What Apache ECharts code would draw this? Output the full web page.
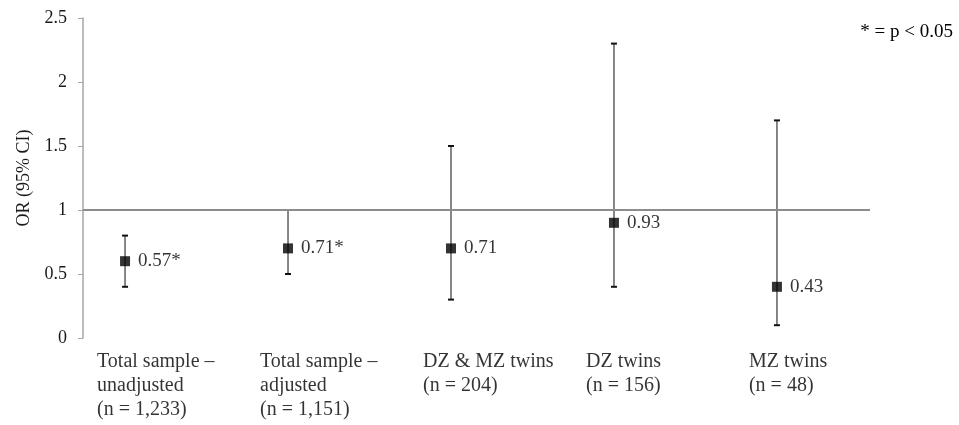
<!DOCTYPE html>
<html>
<head>
<meta charset="utf-8">
<script src="https://cdn.jsdelivr.net/npm/echarts@6/dist/echarts.min.js"></script>
<style>
  html, body { margin: 0; padding: 0; background: #fff; }
  #chart { width: 959px; height: 425px; }
</style>
</head>
<body>
<div id="chart"></div>
<script>
// groups along the x axis
var categories = [
  'Total sample –\nunadjusted\n(n = 1,233)',
  'Total sample –\nadjusted\n(n = 1,151)',
  'DZ & MZ twins\n(n = 204)',
  'DZ twins\n(n = 156)',
  'MZ twins\n(n = 48)'
];
// plotted odds ratio, lower and upper 95% CI
var orValues = [0.6, 0.7, 0.7, 0.9, 0.4];
var ciLow = [0.4, 0.5, 0.3, 0.4, 0.1];
var ciHigh = [0.8, 1.0, 1.5, 2.3, 1.7];
// text shown next to each marker
var pointLabels = ['0.57*', '0.71*', '0.71', '0.93', '0.43'];
var yTicks = [0, 0.5, 1, 1.5, 2, 2.5];

var serif = 'Liberation Serif';

var myChart = echarts.init(document.getElementById('chart'));

var barData = categories.map(function (c, i) { return [i + 1, ciLow[i], ciHigh[i]]; });
var pointData = categories.map(function (c, i) { return [i + 1, orValues[i]]; });
var catData = categories.map(function (c, i) { return [i + 1, yTicks[0]]; });

var options = {
  animation: false,
  textStyle: { fontFamily: serif },
  title: {
    text: '* = p < 0.05',
    right: 1,
    top: 18,
    textStyle: { fontFamily: serif, fontSize: 19, fontWeight: 'normal', color: '#000' }
  },
  grid: { left: 83, right: 89, top: 18, bottom: 87 },
  xAxis: {
    type: 'value',
    min: 0.742,
    max: 5.571,
    show: false
  },
  yAxis: {
    type: 'value',
    min: yTicks[0],
    max: yTicks[yTicks.length - 1],
    interval: 0.5,
    name: 'OR (95% CI)',
    nameLocation: 'middle',
    nameRotate: 90,
    nameGap: 50,
    nameTextStyle: { fontFamily: serif, fontSize: 18, color: '#1a1a1a' },
    axisLine: { show: true, lineStyle: { color: '#a6a6a6', width: 1.5 } },
    axisTick: { show: true, inside: false, length: 5, lineStyle: { color: '#a6a6a6' } },
    splitLine: { show: false },
    axisLabel: { fontFamily: serif, fontSize: 18, color: '#1a1a1a', margin: 16 }
  },
  series: [
    {
      // error bars
      type: 'custom',
      data: barData,
      z: 3,
      renderItem: function (params, api) {
        var x = api.value(0);
        var lo = api.coord([x, api.value(1)]);
        var hi = api.coord([x, api.value(2)]);
        var cap = 3;
        return {
          type: 'group',
          children: [
            { type: 'line', shape: { x1: lo[0], y1: lo[1], x2: hi[0], y2: hi[1] },
              style: { stroke: '#7a7a7a', lineWidth: 1.8 } },
            { type: 'line', shape: { x1: lo[0] - cap, y1: lo[1], x2: lo[0] + cap, y2: lo[1] },
              style: { stroke: '#111', lineWidth: 2 } },
            { type: 'line', shape: { x1: hi[0] - cap, y1: hi[1], x2: hi[0] + cap, y2: hi[1] },
              style: { stroke: '#111', lineWidth: 2 } }
          ]
        };
      }
    },
    {
      // markers + reference line at OR = 1
      type: 'scatter',
      data: pointData,
      symbol: 'rect',
      symbolSize: 10,
      z: 4,
      itemStyle: { color: '#000' },
      label: {
        show: true,
        position: 'right',
        distance: 8,
        fontFamily: serif,
        fontSize: 19,
        color: '#000',
        formatter: function (p) { return pointLabels[p.dataIndex]; }
      },
      markLine: {
        silent: true,
        symbol: 'none',
        label: { show: false },
        lineStyle: { color: '#8c8c8c', width: 2, type: 'solid' },
        data: [{ yAxis: 1 }]
      }
    },
    {
      // category labels under the plot
      type: 'scatter',
      data: catData,
      symbolSize: 0,
      clip: false,
      silent: true,
      label: {
        show: true,
        position: 'bottom',
        distance: 12,
        align: 'left',
        offset: [-28, 0],
        fontFamily: serif,
        fontSize: 20,
        lineHeight: 24,
        color: '#000',
        formatter: function (p) { return categories[p.dataIndex]; }
      }
    }
  ]
};
myChart.setOption(options);
window.addEventListener('resize', function () { myChart.resize(); });
</script>
</body>
</html>
